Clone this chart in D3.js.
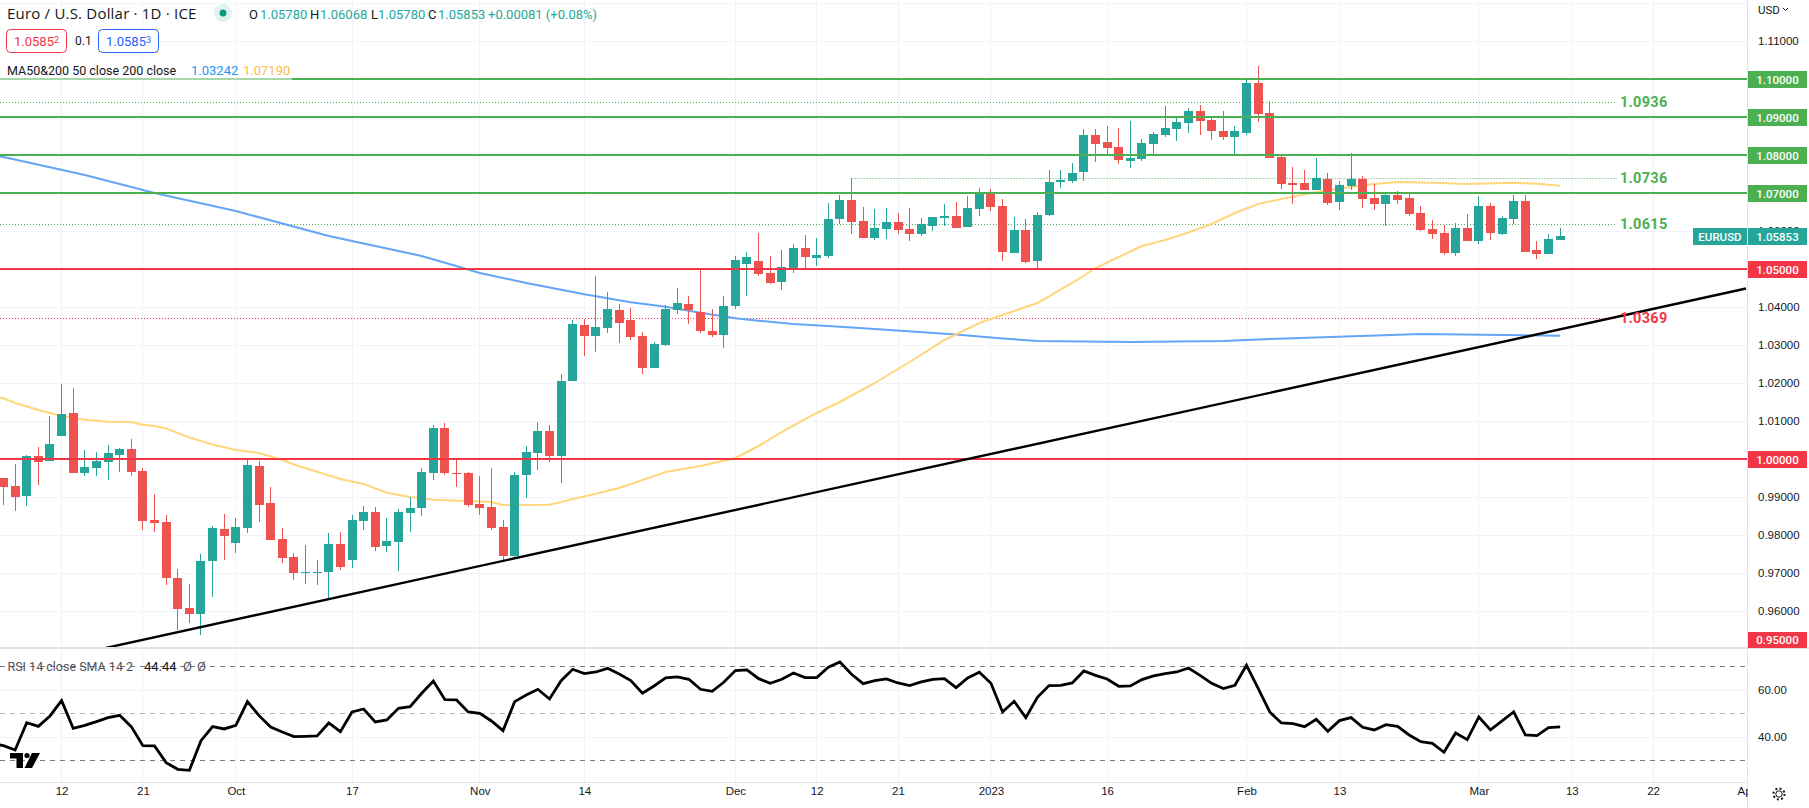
<!DOCTYPE html>
<html lang="en">
<head>
<meta charset="UTF-8">
<title>EURUSD 1D</title>
<style>
    html, body { margin: 0; padding: 0; background: #fff; overflow: hidden; }
    svg { display: block; font-family: Roboto, sans-serif; }
    .tick text { fill: #131722; font-size: 11.5px; }
</style>
</head>
<body>
<svg></svg>
<script src="https://d3js.org/d3.v7.min.js"></script>
<script>
    /* data: one entry per daily bar, first bar is 5 Sep 2022 */
    const opens = [0.995,0.99289,0.99026,1.00079,0.99947,1.00605,1.01211,0.99632,0.99763,0.99921,1.00105,1.00263,0.99684,0.98395,0.98342,0.96868,0.96079,0.95921,0.97316,0.98158,0.97789,0.98184,0.99816,0.98842,0.97895,0.97421,0.97,0.97,0.97026,0.97763,0.97342,0.98368,0.98605,0.97711,0.97816,0.98579,0.98711,0.99632,1.00816,0.99632,0.99632,0.98816,0.98737,0.98211,0.97447,0.99579,1.00158,1.00737,1.00079,1.02053,1.03526,1.03237,1.03447,1.03921,1.03658,1.03237,1.02395,1.03,1.03921,1.04079,1.03868,1.03368,1.03263,1.04026,1.05132,1.05211,1.04895,1.04658,1.05026,1.05553,1.05289,1.05342,1.06316,1.06816,1.06263,1.05816,1.06053,1.06237,1.06053,1.05921,1.06132,1.06342,1.06395,1.06105,1.06579,1.07026,1.06658,1.05421,1.06026,1.05211,1.06421,1.07289,1.07316,1.07553,1.08526,1.08342,1.08211,1.07842,1.07895,1.08289,1.08526,1.08684,1.08842,1.09158,1.08921,1.08632,1.08474,1.08579,1.09895,1.09105,1.07947,1.07263,1.07263,1.07079,1.07368,1.06763,1.07184,1.07368,1.06868,1.06711,1.06947,1.06868,1.06474,1.06053,1.05947,1.05421,1.06079,1.05737,1.06658,1.05921,1.06316,1.06789,1.055,1.05395,1.0578];
    const highs = [0.995,0.99868,1.00105,1.00316,1.01132,1.01974,1.01868,1.00237,1.00184,1.00368,1.00289,1.00526,0.99763,0.99079,0.98526,0.97105,0.96711,0.975,0.98237,0.98553,0.98447,1.0,0.99947,0.99263,0.98184,0.97526,0.97737,0.97342,0.98053,0.98079,0.98526,0.98763,0.98737,0.98447,0.98684,0.99,0.99763,1.00895,1.00947,1.0,0.99658,0.99553,0.99763,0.98395,0.99658,1.00342,1.00974,1.00895,1.02237,1.03658,1.03684,1.04816,1.04395,1.04079,1.03974,1.03342,1.03079,1.04053,1.045,1.04289,1.05,1.03947,1.04289,1.05342,1.05447,1.05947,1.05342,1.055,1.05658,1.05895,1.05816,1.06737,1.06947,1.0739,1.06632,1.06579,1.06605,1.06474,1.06605,1.06342,1.06368,1.06711,1.06763,1.06921,1.07132,1.07105,1.06842,1.06368,1.06316,1.065,1.07605,1.07605,1.07789,1.08684,1.08684,1.08763,1.08711,1.08895,1.08421,1.08605,1.09289,1.08974,1.09237,1.09316,1.08974,1.09158,1.08763,1.1,1.10342,1.09421,1.07974,1.07684,1.07605,1.07921,1.07526,1.07316,1.08053,1.07447,1.07237,1.06974,1.07053,1.07,1.06658,1.06289,1.06158,1.06211,1.06447,1.06921,1.06737,1.06395,1.06947,1.06947,1.05737,1.05921,1.06068];
    const lows = [0.98789,0.98632,0.98763,0.99316,0.99947,1.00605,0.99632,0.99553,0.99553,0.99447,0.99658,0.99553,0.98132,0.98079,0.96684,0.955,0.95684,0.95368,0.96368,0.97342,0.97526,0.98053,0.98342,0.97868,0.97263,0.96816,0.96711,0.96684,0.96289,0.97079,0.97132,0.98132,0.97579,0.97553,0.97053,0.98079,0.985,0.99447,0.99579,0.99263,0.98737,0.98526,0.98132,0.97289,0.97395,0.98974,0.99711,0.99921,0.99368,1.0205,1.02711,1.02816,1.03316,1.03053,1.03132,1.02237,1.02395,1.02974,1.03816,1.03553,1.03316,1.03211,1.02921,1.03947,1.04289,1.04816,1.04605,1.04447,1.04895,1.05,1.05079,1.05289,1.06184,1.05921,1.05816,1.05763,1.05789,1.05921,1.05737,1.05868,1.06,1.06132,1.06079,1.06105,1.06395,1.06526,1.05211,1.05421,1.05158,1.04974,1.06395,1.07132,1.07263,1.07316,1.07816,1.08026,1.07763,1.07658,1.07842,1.08026,1.08474,1.08368,1.08579,1.08526,1.08395,1.08395,1.08,1.08526,1.08868,1.07921,1.07105,1.06711,1.07079,1.07079,1.06684,1.06553,1.07079,1.06605,1.06553,1.06132,1.06711,1.06395,1.06,1.05789,1.05368,1.05342,1.05737,1.05658,1.05763,1.05895,1.06184,1.05447,1.05263,1.05395,1.0578];
    const closes = [0.99263,0.99,1.00079,0.99921,1.00395,1.01184,0.99632,0.99789,0.99947,1.00158,1.00263,0.99658,0.98368,0.98316,0.96868,0.96053,0.95921,0.97316,0.98184,0.97974,0.98211,0.99842,0.98789,0.97868,0.97395,0.97,0.97026,0.97026,0.97763,0.97158,0.98395,0.98605,0.97684,0.97842,0.98605,0.98711,0.99658,1.00816,0.99632,0.99605,0.98789,0.98711,0.98184,0.97447,0.99579,1.00184,1.00737,1.00079,1.02053,1.03553,1.03237,1.03474,1.03947,1.03579,1.03211,1.02395,1.03026,1.03947,1.04105,1.03921,1.03368,1.03263,1.04026,1.05237,1.05316,1.04868,1.04632,1.05053,1.05553,1.05316,1.05368,1.06316,1.06816,1.06237,1.05816,1.06079,1.06237,1.06026,1.05921,1.06184,1.06368,1.06395,1.06079,1.06605,1.07026,1.06632,1.05447,1.06026,1.05184,1.06421,1.07289,1.07342,1.07526,1.08526,1.08289,1.08184,1.07868,1.07921,1.08316,1.08553,1.08711,1.08868,1.09158,1.08895,1.08632,1.08474,1.08632,1.09895,1.09079,1.07921,1.07237,1.07211,1.07079,1.07395,1.06737,1.07211,1.07368,1.06842,1.06711,1.06947,1.06816,1.06447,1.06026,1.05921,1.05421,1.06079,1.05737,1.06658,1.05947,1.06342,1.06789,1.05447,1.05395,1.05789,1.05853];

    const ma50Bars = [-1,0,1,3,5,7,9,11,12,13,14,16,18,20,22,24,25,29,31,33,35,37,40,42,43,47,48,49,50,53,57,60,63,65,67,70,72,75,78,81,84,87,89,92,94,96,98,100,102,104,106,108,110,113,116,118,120,123,126,130,132,134];
    const ma50Vals = [1.0166,1.01597,1.01474,1.01289,1.01132,1.01034,1.00982,1.00974,1.00903,1.00868,1.00803,1.00566,1.00382,1.00237,1.00158,0.99974,0.99855,0.99474,0.99342,0.99113,0.99,0.98929,0.98895,0.98868,0.98789,0.98797,0.98868,0.98947,0.99013,0.99237,0.99658,0.99816,1.00026,1.00342,1.00711,1.01211,1.015,1.02,1.02553,1.03132,1.03579,1.03895,1.04105,1.04632,1.05026,1.05316,1.05605,1.05763,1.05961,1.06184,1.06474,1.06711,1.06842,1.07026,1.07158,1.07237,1.07289,1.07271,1.07237,1.07271,1.07245,1.0719];

    const ma200Bars = [-1,0,7,13,20,28,36,40,41,45,50,54,57,60,63,65,68,71,75,82,86,89,97,105,109,122,134];
    const ma200Vals = [1.08,1.07947,1.07474,1.07,1.06526,1.05868,1.05342,1.04987,1.04895,1.04632,1.04334,1.04124,1.04008,1.0385,1.03703,1.03639,1.03553,1.035,1.03421,1.03276,1.03171,1.03105,1.03079,1.03105,1.03158,1.03289,1.03242];

    const trendBars = [8, 150];
    const trendVals = [0.94974, 1.04487];

    const rsiFirstBar = -1;
    const rsiVals = [37.4,36.45,34.61,46.24,44.68,49.08,55.6,43.83,45.11,46.67,48.37,49.36,44.54,36.45,36.31,29.22,26.38,25.96,38.58,44.54,43.55,45.11,55.18,49.22,44.4,42.27,40.28,40.43,40.57,46.1,42.41,50.78,52.06,46.52,47.38,52.34,53.05,58.72,63.97,56.03,55.89,50.78,50.21,46.95,42.84,55.18,58.01,60.43,56.31,64.11,68.94,67.09,67.8,69.36,66.95,64.11,58.72,61.84,65.25,65.67,64.68,60.43,59.57,63.4,68.37,68.65,64.96,62.98,64.68,67.38,65.39,65.39,69.79,72.06,66.81,62.84,64.11,64.82,63.12,61.99,63.55,64.68,64.96,61.13,65.25,67.66,62.98,50.78,55.32,48.37,57.02,61.99,62.13,63.12,68.23,66.38,64.82,61.7,61.84,64.54,66.1,67.09,67.8,69.5,66.38,62.98,60.71,62.13,70.64,60.85,50.78,46.1,45.82,44.54,47.66,42.55,47.09,48.37,44.26,43.12,45.39,44.68,40.99,38.16,37.45,33.62,41.84,39.01,48.65,43.12,46.95,50.78,40.99,40.71,44.11,44.44];

    const greenLevels = [1.10, 1.09, 1.08, 1.07];
    const redLevels = [1.05, 1.00];
    const axisBoxLevels = [1.10, 1.09, 1.08, 1.07, 1.05, 1.00];
    const priceLabels = [1.11, 1.06, 1.04, 1.03, 1.02, 1.01, 0.99, 0.98, 0.97, 0.96];
    const priceGrid = [1.12,1.11,1.10,1.09,1.08,1.07,1.06,1.05,1.04,1.03,1.02,1.01,1.00,0.99,0.98,0.97,0.96];

    /* dotted levels: drawn price, label text, first bar (null = from the left edge) */
    const dottedPrices = [1.09387, 1.07387, 1.06184, 1.03703];
    const dottedNames = ["1.0936", "1.0736", "1.0615", "1.0369"];
    const dottedStart = [null, 73, null, null];

    const timeBars = [5,12,20,30,41,50,63,70,77,85,95,107,115,127,135,142,150];
    const timeLabels = ["12","21","Oct","17","Nov","14","Dec","12","21","2023","16","Feb","13","Mar","13","22","Apr"];

    const rsiLevels = [70, 50, 30];
    const rsiGrid = [60, 40];

    /* layout */
    const width = 1809;
    const height = 808;
    const paneRight = 1748;
    const paneBottom = 648;
    const rsiBottom = 782;
    const dottedEnd = 1617;

    const upColor = "#26a69a";
    const downColor = "#ef5350";
    const greenLine = "#4caf50";
    const redLine = "#f23645";
    const gridColor = "#f0f3fa";
    const borderColor = "#e0e3eb";
    const textColor = "#131722";

    const svg = d3.select("svg").attr("width", width).attr("height", height);

    const x = d3.scaleLinear().domain([0, 150]).range([3.5, 3.5 + 150 * 11.617]);
    const y = d3.scaleLinear().domain([0.95, 1.10]).range([649, 79]);
    const yRsi = d3.scaleLinear().domain([30, 70]).range([760.8, 666.8]);

    const defs = svg.append("defs");
    defs.append("clipPath").attr("id", "mainClip").append("rect")
        .attr("width", paneRight).attr("height", paneBottom);
    defs.append("clipPath").attr("id", "rsiClip").append("rect")
        .attr("y", paneBottom).attr("width", paneRight).attr("height", rsiBottom - paneBottom);
    defs.append("clipPath").attr("id", "timeClip").append("rect")
        .attr("y", rsiBottom).attr("width", paneRight).attr("height", height - rsiBottom);

    const crisp = (v) => Math.floor(v) + 0.5;
    const snapTop = (v) => Math.floor(v + 0.2);
    const snapBottom = (v) => Math.ceil(v - 0.2);

    /* grid */
    const grid = svg.append("g").attr("shape-rendering", "crispEdges")
        .attr("stroke", gridColor).attr("stroke-width", 1);
    grid.selectAll(".gridX").data(timeBars.filter((d) => x(d) < paneRight - 4)).enter().append("line")
        .attr("x1", (d) => crisp(x(d))).attr("x2", (d) => crisp(x(d)))
        .attr("y1", 0).attr("y2", rsiBottom);
    grid.selectAll(".gridY").data(priceGrid).enter().append("line")
        .attr("x1", 0).attr("x2", paneRight)
        .attr("y1", (d) => crisp(y(d))).attr("y2", (d) => crisp(y(d)));
    grid.selectAll(".gridRsi").data(rsiGrid).enter().append("line")
        .attr("x1", 0).attr("x2", paneRight)
        .attr("y1", (d) => crisp(yRsi(d))).attr("y2", (d) => crisp(yRsi(d)));

    const main = svg.append("g").attr("clip-path", "url(#mainClip)");

    /* dotted levels */
    main.selectAll(".dotted").data(dottedPrices).enter().append("line")
        .attr("x1", (d, i) => dottedStart[i] === null ? 0 : x(dottedStart[i]))
        .attr("x2", dottedEnd)
        .attr("y1", (d) => crisp(y(d))).attr("y2", (d) => crisp(y(d)))
        .attr("stroke", (d, i) => i === 3 ? redLine : greenLine)
        .attr("stroke-width", 1)
        .attr("stroke-dasharray", "1 2");

    /* moving averages */
    const maLine = (bars) => d3.line().x((d, i) => x(bars[i])).y((d) => y(d));
    main.append("path").attr("d", maLine(ma200Bars)(ma200Vals))
        .attr("fill", "none").attr("stroke", "#64a5f5").attr("stroke-width", 2);
    main.append("path").attr("d", maLine(ma50Bars)(ma50Vals))
        .attr("fill", "none").attr("stroke", "#ffd67c").attr("stroke-width", 2);

    /* candles */
    const candles = main.append("g").attr("shape-rendering", "crispEdges");
    const candleColor = (i) => closes[i] >= opens[i] ? upColor : downColor;
    candles.selectAll(".wick").data(opens).enter().append("rect")
        .attr("x", (d, i) => Math.floor(x(i)))
        .attr("width", 1)
        .attr("y", (d, i) => snapTop(y(highs[i])))
        .attr("height", (d, i) => snapBottom(y(lows[i])) - snapTop(y(highs[i])))
        .attr("fill", (d, i) => candleColor(i));
    candles.selectAll(".body").data(opens).enter().append("rect")
        .attr("x", (d, i) => Math.floor(x(i)) - 4)
        .attr("width", 9)
        .attr("y", (d, i) => snapTop(y(Math.max(d, closes[i]))))
        .attr("height", (d, i) => snapBottom(y(Math.min(d, closes[i]))) - snapTop(y(Math.max(d, closes[i]))))
        .attr("fill", (d, i) => candleColor(i));

    /* solid levels */
    main.selectAll(".green").data(greenLevels).enter().append("line")
        .attr("x1", 0).attr("x2", paneRight)
        .attr("y1", (d) => y(d)).attr("y2", (d) => y(d))
        .attr("stroke", greenLine).attr("stroke-width", 2);
    main.selectAll(".red").data(redLevels).enter().append("line")
        .attr("x1", 0).attr("x2", paneRight)
        .attr("y1", (d) => y(d)).attr("y2", (d) => y(d))
        .attr("stroke", redLine).attr("stroke-width", 2);

    /* trend line */
    main.append("path").attr("d", maLine(trendBars)(trendVals))
        .attr("fill", "none").attr("stroke", "#000").attr("stroke-width", 2.4);

    /* dotted level labels */
    main.selectAll(".dottedName").data(dottedNames).enter().append("text")
        .attr("x", 1620)
        .attr("y", (d, i) => y(dottedPrices[i]) - 0.5)
        .attr("dy", "0.36em")
        .attr("font-size", 14.5).attr("font-weight", 700).attr("letter-spacing", 0.3)
        .attr("fill", (d, i) => i === 3 ? redLine : greenLine)
        .text((d) => d);

    /* rsi pane */
    const rsi = svg.append("g").attr("clip-path", "url(#rsiClip)");
    rsi.selectAll(".rsiLevel").data(rsiLevels).enter().append("line")
        .attr("x1", 0).attr("x2", paneRight)
        .attr("y1", (d) => crisp(yRsi(d))).attr("y2", (d) => crisp(yRsi(d)))
        .attr("stroke", (d) => d === 50 ? "#b2b5be" : "#787b86")
        .attr("stroke-dasharray", "5 5")
        .attr("shape-rendering", "crispEdges");
    rsi.append("path")
        .attr("d", d3.line().x((d, i) => x(rsiFirstBar + i)).y((d) => yRsi(d))(rsiVals))
        .attr("fill", "none").attr("stroke", "#000").attr("stroke-width", 2.8)
        .attr("stroke-linejoin", "miter");

    /* separators */
    const borders = svg.append("g").attr("shape-rendering", "crispEdges").attr("fill", borderColor);
    borders.append("rect").attr("x", 0).attr("y", paneBottom - 1).attr("width", width).attr("height", 2);
    borders.append("rect").attr("x", 0).attr("y", rsiBottom).attr("width", paneRight).attr("height", 1);
    borders.append("rect").attr("x", paneRight - 1).attr("y", 0).attr("width", 1).attr("height", height);

    /* price axis */
    const priceAxis = svg.append("g")
        .attr("transform", `translate(${paneRight},0)`)
        .call(d3.axisRight(y).tickValues(priceLabels).tickFormat(d3.format(".5f")).tickSize(0).tickPadding(10));
    priceAxis.select(".domain").remove();

    const rsiAxis = svg.append("g")
        .attr("transform", `translate(${paneRight},0)`)
        .call(d3.axisRight(yRsi).tickValues(rsiGrid).tickFormat(d3.format(".2f")).tickSize(0).tickPadding(10));
    rsiAxis.select(".domain").remove();

    const addBox = (bx, by, bw, bh, fill, label) => {
        svg.append("rect").attr("x", bx).attr("y", by).attr("width", bw).attr("height", bh).attr("fill", fill)
            .attr("shape-rendering", "crispEdges");
        svg.append("text").attr("x", bx + bw / 2).attr("y", by + bh / 2).attr("dy", "0.36em")
            .attr("text-anchor", "middle").attr("fill", "#fff").attr("font-size", 11.5).attr("font-weight", 500)
            .text(label);
    };
    axisBoxLevels.forEach((level) => {
        addBox(paneRight, Math.round(y(level)) - 8, 59, 17, level < 1.06 ? redLine : greenLine, d3.format(".5f")(level));
    });
    addBox(paneRight, 632, 59, 16, redLine, "0.95000");
    addBox(1693, 228, 54, 17, upColor, "EURUSD");
    addBox(paneRight, 228, 59, 17, upColor, d3.format(".5f")(closes[closes.length - 1]));

    svg.append("text").attr("x", 1758).attr("y", 14).attr("font-size", 11.5).attr("fill", textColor).text("USD");
    svg.append("path").attr("d", "M1783,8 l2.5,2.5 l2.5,-2.5").attr("fill", "none").attr("stroke", textColor);

    /* time axis */
    const timeAxis = svg.append("g")
        .attr("clip-path", "url(#timeClip)")
        .append("g")
        .attr("transform", `translate(0,${rsiBottom})`)
        .call(d3.axisBottom(x).tickValues(timeBars).tickFormat((d, i) => timeLabels[i]).tickSize(0).tickPadding(5));
    timeAxis.select(".domain").remove();
    timeAxis.selectAll("text").attr("font-size", 12);

    /* settings gear */
    svg.append("circle").attr("cx", 1779).attr("cy", 794).attr("r", 3.2)
        .attr("fill", "none").attr("stroke", textColor);
    svg.append("circle").attr("cx", 1779).attr("cy", 794).attr("r", 5.5)
        .attr("fill", "none").attr("stroke", textColor).attr("stroke-width", 2).attr("stroke-dasharray", "2 2.3");

    /* logo */
    const logo = svg.append("g").attr("fill", "#000");
    logo.append("path").attr("d", "M10,753 H23 V768 H16.5 V758.5 H10 Z");
    logo.append("circle").attr("cx", 27).attr("cy", 755.5).attr("r", 2.6);
    logo.append("path").attr("d", "M32,753 H40 L32,768 H24.5 Z");

    /* legend */
    svg.append("rect").attr("x", 0).attr("y", 60).attr("width", 292).attr("height", 20)
        .attr("fill", "#fff").attr("fill-opacity", 0.5);

    const legendText = (tx, ty, str, fill, size) => svg.append("text")
        .attr("x", tx).attr("y", ty).attr("dy", "0.36em")
        .attr("font-size", size || 13).attr("fill", fill).text(str);

    legendText(7, 14, "Euro / U.S. Dollar · 1D · ICE", textColor, 15)
        .attr("font-family", "'Open Sans', sans-serif").attr("letter-spacing", 0.2);
    svg.append("circle").attr("cx", 223).attr("cy", 13).attr("r", 9).attr("fill", "#e0f2f1");
    svg.append("circle").attr("cx", 223).attr("cy", 13).attr("r", 3.5).attr("fill", "#089981");

    legendText(249, 14, "O", textColor);
    legendText(260, 14, "1.05780", upColor);
    legendText(310, 14, "H", textColor);
    legendText(320, 14, "1.06068", upColor);
    legendText(371, 14, "L", textColor);
    legendText(378, 14, "1.05780", upColor);
    legendText(428, 14, "C", textColor);
    legendText(438, 14, "1.05853", upColor);
    legendText(488, 14, "+0.00081 (+0.08%)", upColor);

    const priceBox = (bx, color, main, sup) => {
        svg.append("rect").attr("x", bx + 0.5).attr("y", 29.5).attr("width", 60).attr("height", 23).attr("rx", 4)
            .attr("fill", "#fff").attr("stroke", color);
        const t = legendText(bx + 8, 41, main, color);
        t.append("tspan").attr("font-size", 9).attr("dy", "-3").text(sup);
    };
    priceBox(6, redLine, "1.0585", "2");
    legendText(75, 41, "0.1", textColor, 12);
    priceBox(98, "#2962ff", "1.0585", "3");

    legendText(7, 70, "MA50&200 50 close 200 close", textColor, 12.5);
    legendText(191, 70, "1.03242", "#2196f3");
    legendText(243, 70, "1.07190", "#ffb74d");

    legendText(7.5, 666, "RSI 14 close SMA 14 2", "#50535e", 12.5);
    legendText(144, 666, "44.44", textColor);
    legendText(183, 666, "Ø", "#50535e");
    legendText(197, 666, "Ø", "#50535e");
</script>
</body>
</html>
